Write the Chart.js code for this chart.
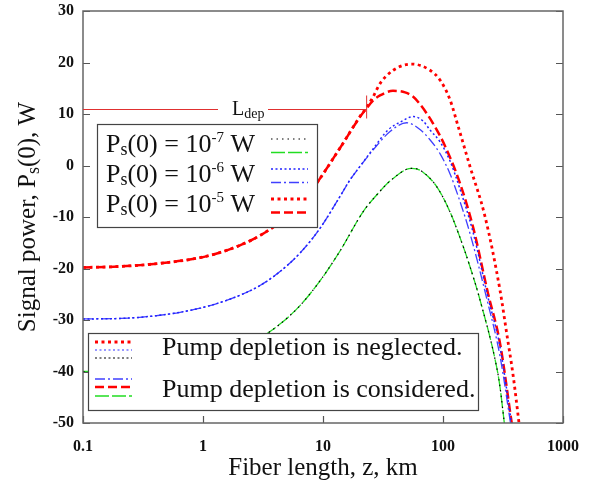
<!DOCTYPE html>
<html><head><meta charset="utf-8">
<script src="https://cdn.jsdelivr.net/npm/chart.js@4"></script>
<style>html,body{margin:0;padding:0;background:#fff}</style>
</head><body>
<canvas id="c" width="596" height="483"></canvas>
<script>
const FONT = '"Liberation Serif", "Times New Roman", serif';

// ---- data (z in km, signal power) ----
const zRedDashed = [0.1, 0.2035, 0.438, 0.944, 1.386, 2.03, 2.985, 4.38, 6.43, 8.58, 13.86, 20.3, 23.1, 26.1, 29.85, 38.3, 48.3, 56.2, 64.3, 82.5, 103.9, 138.6, 177.8, 237, 298.5, 373.6];
const pRedDashed = [-19.8, -19.6, -19.0, -17.9, -16.9, -15.5, -13.6, -11.0, -7.6, -3.9, 3.4, 9.4, 11.1, 12.6, 13.6, 14.5, 14.2, 13.4, 11.9, 8.2, 3.8, -3.46, -11.9, -24.8, -34.5, -50];

const zRedDotted = [0.1, 0.2035, 0.438, 0.944, 1.386, 2.03, 2.985, 4.38, 6.43, 8.58, 13.86, 20.3, 23.1, 26.1, 29.85, 38.5, 54.8, 77.9, 94.4, 114.3, 134.1, 167.9, 223.9, 298.5, 339.5, 385.3, 429.9];
const pRedDotted = [-19.8, -19.6, -19.0, -17.9, -16.9, -15.5, -13.6, -11.0, -7.6, -3.9, 3.4, 9.5, 11.3, 13.3, 15.9, 18.5, 19.7, 18.5, 16.6, 12.8, 7.5, -0.2, -9.9, -24.2, -32.6, -41.0, -50];

const zBlueDotted = [0.1, 0.2035, 0.3617, 0.643, 1.144, 2.03, 2.985, 4.38, 6.43, 9.44, 13.86, 16.79, 20.3, 26.1, 34.8, 43.8, 56.6, 68.5, 77.9, 94.4, 114.3, 138.6, 177.8, 237, 298.5, 372.3];
const pBlueDotted = [-29.8, -29.7, -29.3, -28.5, -27.2, -25.2, -23.3, -20.6, -17.0, -12.2, -6.0, -2.8, -0.2, 3.2, 6.9, 8.4, 9.5, 8.6, 6.9, 4.6, 0.9, -4.6, -12.9, -25.6, -35.2, -50];

const zBlueConsidered = [0.1, 0.2035, 0.3617, 0.643, 1.144, 2.03, 2.985, 4.38, 6.43, 9.44, 13.86, 16.79, 20.3, 26.1, 36.2, 49.8, 64.3, 77.9, 94.4, 114.3, 138.6, 167.9, 231.2, 298.5, 365.2];
const pBlueConsidered = [-29.8, -29.7, -29.3, -28.5, -27.2, -25.2, -23.3, -20.6, -17.0, -12.2, -6.0, -2.8, -0.2, 3.0, 6.6, 8.3, 7.0, 5.0, 2.3, -1.6, -7.0, -13.2, -25.8, -37.0, -50];

const zGreenConsidered = [0.1, 0.2035, 0.3617, 0.643, 1.144, 2.03, 2.985, 4.38, 6.43, 9.44, 13.86, 21.7, 29.85, 36.2, 54.8, 64.3, 88.6, 114.3, 138.6, 167.9, 203.4, 280.3, 298.5, 324.3];
const pGreenConsidered = [-40, -39.9, -39.5, -38.7, -37.4, -35.4, -33.5, -30.8, -27.2, -22.4, -16.6, -8.9, -5.0, -3.0, -0.55, -0.9, -4.1, -9.0, -14.0, -19.65, -26.1, -39.2, -43.0, -50];

const zBlackDotted = zGreenConsidered.slice();
const pBlackDotted = pGreenConsidered.slice();

const xTickValues = [0.1, 1, 10, 100, 1000];
const yTickValues = [-50, -40, -30, -20, -10, 0, 10, 20, 30];

const xTitle = 'Fiber length, z, km';
const yTitleParts = ['Signal power, P', 's', '(0), W'];
const legendExponents = ['-7', '-6', '-5'];
const legendNotes = ['Pump depletion is neglected.', 'Pump depletion is considered.'];
const ldepLabel = ['L', 'dep'];
const LDEP_KM = 23.1, LDEP_LEVEL = 10.9;

const pts = (zs, ps) => zs.map((z, i) => ({x: z, y: ps[i]}));

// ---- styles ----
const S = {
  black:  {color: '#000000', width: 1.2, dash: [1.5, 4]},
  green:  {color: '#22dd22', width: 1.3, dash: [14, 3]},
  blueDot:{color: '#2222ff', width: 1.5, dash: [2, 2.5]},
  blueDD: {color: '#4040ff', width: 1.3, dash: [10, 3, 2, 3]},
  redDot: {color: '#ff0000', width: 2.8, dash: [3, 3.5]},
  redDash:{color: '#ff0000', width: 2.5, dash: [9, 4]}
};
const ds = (label, data, s) => ({label, data, borderColor: s.color, borderWidth: s.width,
  borderDash: s.dash, pointRadius: 0, fill: false, cubicInterpolationMode: 'monotone'});

function drawParts(ctx, parts, x, y) {
  let cx = x;
  parts.forEach(p => {
    ctx.font = p.size + 'px ' + FONT;
    ctx.fillText(p.t, cx, y + (p.dy || 0));
    cx += ctx.measureText(p.t).width;
  });
  return cx - x;
}
function partsWidth(ctx, parts) {
  let w = 0;
  parts.forEach(p => { ctx.font = p.size + 'px ' + FONT; w += ctx.measureText(p.t).width; });
  return w;
}
function sample(ctx, s, x1, x2, y) {
  ctx.save();
  ctx.strokeStyle = s.color; ctx.lineWidth = s.width; ctx.setLineDash(s.dash);
  ctx.beginPath(); ctx.moveTo(x1, y); ctx.lineTo(x2, y); ctx.stroke();
  ctx.restore();
}

const decor = {
  id: 'decor',
  afterDatasetsDraw(chart) {
    const {ctx, chartArea: a, scales: {x, y}} = chart;
    ctx.save();
    // inner ticks
    ctx.strokeStyle = '#555'; ctx.lineWidth = 1.2; ctx.setLineDash([]);
    ctx.beginPath();
    yTickValues.forEach(v => {
      const py = Math.round(y.getPixelForValue(v)) + 0.5;
      ctx.moveTo(a.left, py); ctx.lineTo(a.left + 7, py);
      ctx.moveTo(a.right, py); ctx.lineTo(a.right - 7, py);
    });
    xTickValues.forEach(v => {
      const px = Math.round(x.getPixelForValue(v)) + 0.5;
      ctx.moveTo(px, a.bottom); ctx.lineTo(px, a.bottom - 7);
    });
    ctx.stroke();
    // frame
    ctx.strokeStyle = '#666'; ctx.lineWidth = 1.5;
    ctx.strokeRect(a.left, a.top, a.right - a.left, a.bottom - a.top);

    // L_dep annotation
    const xL = x.getPixelForValue(LDEP_KM), yL = Math.round(y.getPixelForValue(LDEP_LEVEL)) + 0.5;
    ctx.strokeStyle = '#e03030'; ctx.lineWidth = 1;
    ctx.beginPath();
    ctx.moveTo(a.left, yL); ctx.lineTo(218, yL);
    ctx.moveTo(268, yL); ctx.lineTo(xL, yL);
    ctx.moveTo(xL, yL - 14); ctx.lineTo(xL, yL + 9);
    ctx.stroke();
    ctx.fillStyle = '#111'; ctx.textBaseline = 'alphabetic'; ctx.textAlign = 'left';
    drawParts(ctx, [{t: ldepLabel[0], size: 20}, {t: ldepLabel[1], size: 14, dy: 3}], 232, yL + 5);

    // top legend
    ctx.fillStyle = '#fff'; ctx.fillRect(97, 124, 220, 103);
    ctx.strokeStyle = '#444'; ctx.lineWidth = 1.2; ctx.strokeRect(97.5, 124.5, 220, 103);
    const rows = [[S.black, S.green], [S.blueDot, S.blueDD], [S.redDot, S.redDash]];
    ctx.fillStyle = '#111';
    rows.forEach((r, i) => {
      const base = 152 + i * 30;
      drawParts(ctx, [{t: 'P', size: 26}, {t: 's', size: 18, dy: 3}, {t: '(0) = 10', size: 26},
        {t: legendExponents[i], size: 15, dy: -10}, {t: ' W', size: 26}], 106, base);
      sample(ctx, r[0], 271, 308, base - 13);
      sample(ctx, r[1], 271, 308, base + 0.5);
    });

    // bottom legend
    ctx.fillStyle = '#fff'; ctx.fillRect(88, 333, 390, 77);
    ctx.strokeStyle = '#444'; ctx.strokeRect(88.5, 333.5, 390, 77);
    sample(ctx, S.redDot, 95, 132, 342);
    sample(ctx, {color: '#7777ff', width: 1.5, dash: [2, 2.5]}, 95, 132, 350);
    sample(ctx, {color: '#000', width: 1.2, dash: [2, 2.5]}, 95, 132, 358);
    sample(ctx, S.blueDD, 95, 132, 379);
    sample(ctx, S.redDash, 95, 132, 387);
    sample(ctx, S.green, 95, 132, 396);
    ctx.fillStyle = '#111';
    ctx.font = '26px ' + FONT;
    ctx.fillText(legendNotes[0], 162, 355);
    ctx.fillText(legendNotes[1], 162, 397);

    // y-axis title
    const yParts = [{t: yTitleParts[0], size: 25}, {t: yTitleParts[1], size: 18, dy: 4}, {t: yTitleParts[2], size: 25}];
    const w = partsWidth(ctx, yParts);
    ctx.save();
    ctx.translate(35, (a.top + a.bottom) / 2);
    ctx.rotate(-Math.PI / 2);
    drawParts(ctx, yParts, -w / 2, 0);
    ctx.restore();

    ctx.restore();
  }
};

new Chart(document.getElementById('c'), {
  type: 'line',
  data: {
    datasets: [
      ds('Ps(0)=1e-7 W, depletion neglected', pts(zBlackDotted, pBlackDotted), S.black),
      ds('Ps(0)=1e-7 W, depletion considered', pts(zGreenConsidered, pGreenConsidered), S.green),
      ds('Ps(0)=1e-6 W, depletion neglected', pts(zBlueDotted, pBlueDotted), S.blueDot),
      ds('Ps(0)=1e-6 W, depletion considered', pts(zBlueConsidered, pBlueConsidered), S.blueDD),
      ds('Ps(0)=1e-5 W, depletion neglected', pts(zRedDotted, pRedDotted), S.redDot),
      ds('Ps(0)=1e-5 W, depletion considered', pts(zRedDashed, pRedDashed), S.redDash)
    ]
  },
  options: {
    responsive: false, animation: false, devicePixelRatio: 1,
    layout: {padding: {left: 0, right: 33, top: 11, bottom: 0}},
    plugins: {legend: {display: false}, tooltip: {enabled: false}},
    scales: {
      x: {
        type: 'logarithmic', min: 0.1, max: 1000,
        afterBuildTicks: s => { s.ticks = xTickValues.map(v => ({value: v})); },
        afterFit: s => { s.height = 60; s.paddingLeft = 0; s.paddingRight = 0; },
        grid: {display: false, drawTicks: false},
        border: {display: false},
        ticks: {callback: v => String(v), color: '#111', padding: 14, maxRotation: 0, autoSkip: false,
          font: {family: FONT, size: 16, weight: 'bold'}},
        title: {display: true, text: xTitle, color: '#111', font: {family: FONT, size: 25}, padding: {top: 0, bottom: 0}}
      },
      y: {
        type: 'linear', min: -50, max: 30,
        afterBuildTicks: s => { s.ticks = yTickValues.map(v => ({value: v})); },
        afterFit: s => { s.width = 83; s.paddingTop = 0; s.paddingBottom = 0; },
        grid: {display: false, drawTicks: false},
        border: {display: false},
        ticks: {color: '#111', padding: 9, font: {family: FONT, size: 16, weight: 'bold'}},
        title: {display: false}
      }
    }
  },
  plugins: [decor]
});
</script>
</body></html>
